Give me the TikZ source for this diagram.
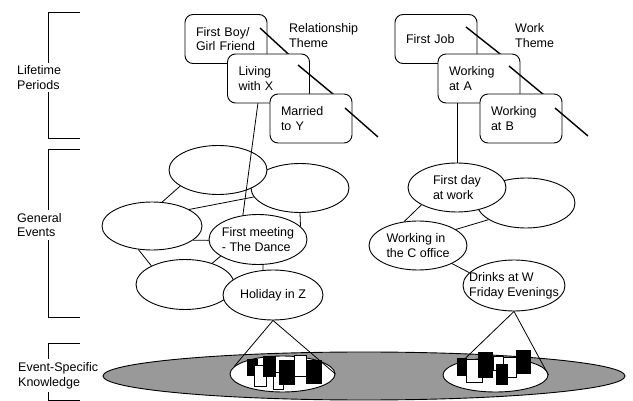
\documentclass[tikz,border=0pt]{standalone}
\usepackage{fontspec}
\setmainfont{Liberation Sans}
\usetikzlibrary{shapes.geometric}
\tikzset{
  txt/.style={font=\fontsize{12.5}{14.7}\selectfont, inner sep=0pt, align=left},
  rbox/.style={draw, fill=white, rounded corners=8pt, line width=0.9pt,
    minimum width=82pt, minimum height=49pt, text width=60pt,
    inner xsep=11pt, inner ysep=0pt, align=left,
    font=\fontsize{12.5}{14.7}\selectfont},
  ell/.style={draw, fill=white, ellipse, line width=0.9pt, inner sep=0pt,
    minimum width=98pt, minimum height=49pt},
  conn/.style={line width=0.8pt},
  theme/.style={line width=1.4pt},
  bracket/.style={line width=0.9pt},
  wbar/.style={draw, fill=white, line width=0.8pt},
  bbar/.style={fill=black},
  lab/.style={txt, fill=white, inner ysep=3pt, inner xsep=0pt}
}
\begin{document}
\begin{tikzpicture}[x=1pt, y=-1pt]
\useasboundingbox (0,0) rectangle (633,401);

% ---- left brackets and labels
\draw[bracket] (80,12) -- (48,12) -- (48,138) -- (80,138);
\node[lab, anchor=west] (lp) at (17,77.5) {Lifetime\\Periods};
\draw[bracket] (80,149) -- (48,149) -- (48,317) -- (80,317);
\node[lab, anchor=west] (ge) at (17,225) {General\\Events};
\draw[bracket] (80,343) -- (48,343) -- (48,400) -- (80,400);
\node[lab, anchor=west] (esk) at (18,375.5) {Event-Specific\\Knowledge};

% ---- relationship theme
\node[rbox] (fb) at (226,39) {First Boy/\\Girl Friend};
\coordinate (r1a) at (260,28); \coordinate (r1b) at (297,62);
\draw[theme] (r1a) -- (r1b);
\node[rbox] (lx) at (268.5,78.5) {Living\\with X};
\coordinate (r2a) at (298,65); \coordinate (r2b) at (339,99);
\draw[theme] (r2a) -- (r2b);
\node[rbox] (my) at (311,118.5) {Married\\to Y};
\coordinate (r3a) at (345,108); \coordinate (r3b) at (378,137);
\draw[theme] (r3a) -- (r3b);
\node[txt, anchor=west] (rt) at (289,35.5) {Relationship\\Theme};

% ---- work theme
\node[rbox] (fj) at (436,39) {First Job};
\coordinate (w1a) at (466,27); \coordinate (w1b) at (509,61);
\draw[theme] (w1a) -- (w1b);
\node[rbox] (wa) at (479,78.5) {Working\\at A};
\coordinate (w2a) at (509,66); \coordinate (w2b) at (550,100);
\draw[theme] (w2a) -- (w2b);
\node[rbox] (wb) at (521,118.5) {Working\\at B};
\coordinate (w3a) at (555,108); \coordinate (w3b) at (588,136);
\draw[theme] (w3a) -- (w3b);
\node[txt, anchor=west] (wt) at (515,35.5) {Work\\Theme};

% ---- general events (left)
\node[ell] (e2) at (300,188) {};
\node[ell] (e1) at (218,170) {};
\node[ell, minimum width=100pt, minimum height=48pt] (e3) at (152,226) {};
\node[ell, minimum height=50pt,
  label={[txt, name=fmt]center:{First meeting\\- The Dance}}] (fm) at (258,239.5) {};
\node[ell, minimum height=50pt] (e5) at (185,284.5) {};
\node[ell, minimum width=100pt, minimum height=50pt,
  label={[txt, name=holt]center:{Holiday in Z}}] (hol) at (273,295) {};

% ---- general events (right)
\node[ell, minimum height=50pt] (er) at (526,203) {};
\node[ell, label={[txt, name=fdwt]center:{First day\\at work}}] (fdw) at (457,187.5) {};
\node[ell, label={[txt, name=wct]center:{Working in\\the C office}}] (wc) at (418,245.5) {};
\node[ell, minimum width=102pt, minimum height=51pt,
  label={[txt, name=drt]center:{Drinks at W\\Friday Evenings}}] (dr) at (514,285.5) {};

% ---- connectors
\draw[conn] (lx.-113) -- (fm.122);
\draw[conn] (e1.203) -- (e3.67);
\draw[conn] (e3.24) -- (e2.191);
\draw[conn] (e2.south) -- (fm.17);
\draw[conn] (e3.-19) -- (fm.181);
\draw[conn] (e3.240) -- (e5.151);
\draw[conn] (fm.204) -- (e5.38);
\draw[conn] (fm.-79) -- (hol.112);
\draw[conn] (fdw.north) -- (fdw.north |- wa.south);
\draw[conn] (fdw.206) -- (wc.120);
\draw[conn] (er.204) -- (wc.23);
\draw[conn] (wc.-28) -- (dr.164);

% ---- event-specific knowledge
\node[draw, ellipse, fill=black!40, line width=0.9pt, inner sep=0pt,
  minimum width=522pt, minimum height=48pt] (esk-ell) at (364,376) {};
\node[draw, ellipse, fill=white, line width=0.9pt, inner sep=0pt,
  minimum width=105pt, minimum height=36pt] (wl) at (282.5,374) {};
\node[draw, ellipse, fill=white, line width=0.9pt, inner sep=0pt,
  minimum width=105pt, minimum height=34pt] (wr) at (495.5,375) {};
\draw[conn] (wl.171) -- (hol.south) -- (wl.east);
\draw[conn] (wr.158) -- (dr.south) -- (wr.east);

% bars left
\fill[bbar] (247,359) rectangle (258,376);
\draw[wbar] (254,365) rectangle (266,386);
\draw[wbar] (273,372) rectangle (283,389);
\fill[bbar] (263,356) rectangle (276,377);
\fill[bbar] (279,360) rectangle (295,385);
\draw[wbar] (294,355) rectangle (306,376);
\fill[bbar] (306,360) rectangle (322,384);
% bars right
\fill[bbar] (457,358) rectangle (467,376);
\draw[wbar] (466,359) rectangle (482,382);
\fill[bbar] (478,352) rectangle (493,378);
\draw[wbar] (493,356) rectangle (503,370);
\draw[wbar] (503,357) rectangle (516,377);
\fill[bbar] (496,364) rectangle (508,385);
\fill[bbar] (516,350) rectangle (531,374);
\end{tikzpicture}
\end{document}
